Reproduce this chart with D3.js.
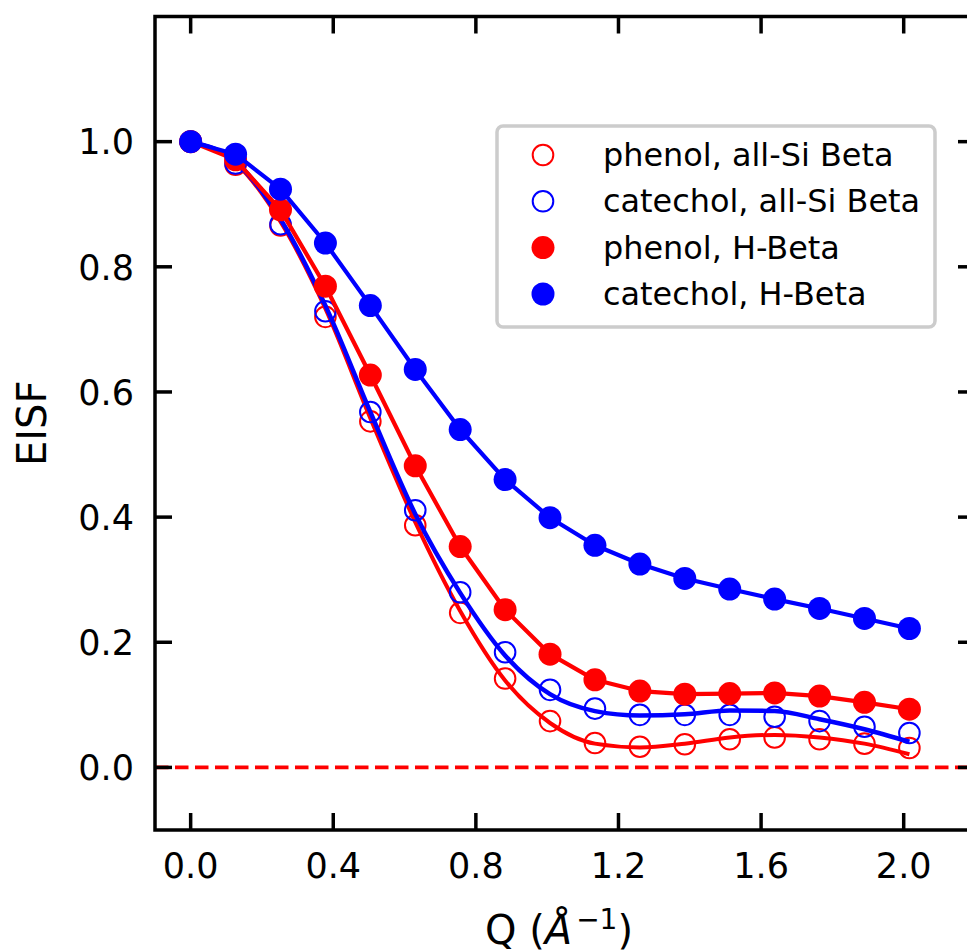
<!DOCTYPE html>
<html>
<head>
<meta charset="utf-8">
<script src="https://cdn.jsdelivr.net/npm/d3@7"></script>
<style>
  html, body { margin: 0; padding: 0; background: #fff; }
  svg { display: block; font-family: "DejaVu Sans", sans-serif; }
</style>
</head>
<body>
<svg id="chart" width="967" height="952"></svg>
<script>
// ---- data ----
const qValues = [0.000, 0.126, 0.252, 0.378, 0.504, 0.630, 0.756, 0.882, 1.008, 1.134, 1.260, 1.386, 1.512, 1.638, 1.764, 1.890, 2.016];
const phenolAllSi   = [1.000, 0.963, 0.866, 0.720, 0.553, 0.387, 0.247, 0.142, 0.074, 0.039, 0.033, 0.037, 0.045, 0.048, 0.045, 0.038, 0.031];
const catecholAllSi = [1.000, 0.965, 0.868, 0.729, 0.568, 0.411, 0.280, 0.184, 0.124, 0.094, 0.084, 0.084, 0.084, 0.081, 0.074, 0.065, 0.055];
const phenolHBeta   = [1.000, 0.971, 0.891, 0.769, 0.627, 0.482, 0.353, 0.252, 0.181, 0.140, 0.122, 0.117, 0.118, 0.119, 0.114, 0.104, 0.093];
const catecholHBeta = [1.000, 0.980, 0.924, 0.838, 0.738, 0.636, 0.540, 0.460, 0.399, 0.355, 0.325, 0.302, 0.285, 0.269, 0.254, 0.238, 0.222];
// smooth fit curves drawn through the open-symbol series
const phenolAllSiFit   = [1.000, 0.966, 0.872, 0.733, 0.558, 0.392, 0.250, 0.139, 0.071, 0.038, 0.032, 0.038, 0.048, 0.052, 0.048, 0.038, 0.021];
const catecholAllSiFit = [1.000, 0.968, 0.876, 0.738, 0.568, 0.405, 0.279, 0.179, 0.117, 0.090, 0.083, 0.085, 0.091, 0.090, 0.077, 0.061, 0.041];

const seriesNames = ["phenol, all-Si Beta", "catechol, all-Si Beta", "phenol, H-Beta", "catechol, H-Beta"];
const xTicks = [0.0, 0.4, 0.8, 1.2, 1.6, 2.0];
const yTicks = [0.0, 0.2, 0.4, 0.6, 0.8, 1.0];
const xDomain = [-0.1, 2.2];
const yDomain = [-0.1, 1.2];

// ---- layout ----
const svg = d3.select("#chart");
const L = 155, R = 975, T = 16.5, B = 830;
const x = d3.scaleLinear().domain(xDomain).range([L, R]);
const y = d3.scaleLinear().domain(yDomain).range([B, T]);

const series = [
  { name: seriesNames[0], vals: phenolAllSi,   fit: phenolAllSiFit,   color: "#ff0000", filled: false, lw: 4 },
  { name: seriesNames[1], vals: catecholAllSi, fit: catecholAllSiFit, color: "#0000ff", filled: false, lw: 4.5 },
  { name: seriesNames[2], vals: phenolHBeta,   fit: null,             color: "#ff0000", filled: true,  lw: 4.2 },
  { name: seriesNames[3], vals: catecholHBeta, fit: null,             color: "#0000ff", filled: true,  lw: 4.2 }
];

// clip for plot area
svg.append("defs").append("clipPath").attr("id", "clip")
  .append("rect").attr("x", L).attr("y", T).attr("width", R - L).attr("height", B - T);

const plot = svg.append("g").attr("clip-path", "url(#clip)");

// zero dashed line
plot.append("line")
  .attr("x1", x(xDomain[0])).attr("x2", x(xDomain[1]))
  .attr("y1", y(0)).attr("y2", y(0))
  .attr("stroke", "#ff0000").attr("stroke-width", 3.7)
  .attr("stroke-dasharray", "13.5,6.5");

const lineLinear = d3.line().x(d => x(d[0])).y(d => y(d[1]));
const lineSmooth = d3.line().x(d => x(d[0])).y(d => y(d[1])).curve(d3.curveMonotoneX);

series.forEach(s => {
  const g = plot.append("g");
  const pts = qValues.map((q, i) => [q, s.vals[i]]);
  if (s.fit) {
    g.append("path").datum(qValues.map((q, i) => [q, s.fit[i]]))
      .attr("d", lineSmooth).attr("fill", "none")
      .attr("stroke", s.color).attr("stroke-width", s.lw)
      .attr("stroke-linejoin", "round");
    g.selectAll("circle").data(pts).enter().append("circle")
      .attr("cx", d => x(d[0])).attr("cy", d => y(d[1]))
      .attr("r", 10.3).attr("fill", "none")
      .attr("stroke", s.color).attr("stroke-width", 2);
  } else {
    g.append("path").datum(pts)
      .attr("d", lineLinear).attr("fill", "none")
      .attr("stroke", s.color).attr("stroke-width", s.lw)
      .attr("stroke-linejoin", "round");
    g.selectAll("circle").data(pts).enter().append("circle")
      .attr("cx", d => x(d[0])).attr("cy", d => y(d[1]))
      .attr("r", 11.5).attr("fill", s.color);
  }
});

// ---- axes (ticks inward on all sides) ----
const tickLen = 17, tickW = 3.5;
const axes = svg.append("g");
xTicks.forEach(t => {
  axes.append("line").attr("x1", x(t)).attr("x2", x(t)).attr("y1", B).attr("y2", B - tickLen)
    .attr("stroke", "#000").attr("stroke-width", tickW);
  axes.append("line").attr("x1", x(t)).attr("x2", x(t)).attr("y1", T).attr("y2", T + tickLen)
    .attr("stroke", "#000").attr("stroke-width", tickW);
  axes.append("text").attr("x", x(t)).attr("y", 877.5)
    .attr("text-anchor", "middle").attr("font-size", 35).attr("fill", "#000")
    .text(d3.format(".1f")(t));
});
yTicks.forEach(t => {
  axes.append("line").attr("x1", L).attr("x2", L + tickLen).attr("y1", y(t)).attr("y2", y(t))
    .attr("stroke", "#000").attr("stroke-width", tickW);
  axes.append("line").attr("x1", R).attr("x2", R - tickLen).attr("y1", y(t)).attr("y2", y(t))
    .attr("stroke", "#000").attr("stroke-width", tickW);
  axes.append("text").attr("x", 134).attr("y", y(t) + 12.8)
    .attr("text-anchor", "end").attr("font-size", 35).attr("fill", "#000")
    .text(d3.format(".1f")(t));
});
// spines
axes.append("rect").attr("x", L).attr("y", T).attr("width", R - L).attr("height", B - T)
  .attr("fill", "none").attr("stroke", "#000").attr("stroke-width", 3.5);

// axis labels
const xl = svg.append("text").attr("x", (L + R) / 2 - 6).attr("y", 944)
  .attr("text-anchor", "middle").attr("font-size", 40).attr("fill", "#000");
xl.append("tspan").text("Q (");
xl.append("tspan").attr("font-style", "italic").text("Å");
xl.append("tspan").attr("font-size", 28).attr("dy", -15).attr("dx", 4).text("−1");
xl.append("tspan").attr("dy", 15).text(")");

svg.append("text").attr("transform", `translate(46,${(T + B) / 2}) rotate(-90)`)
  .attr("text-anchor", "middle").attr("font-size", 40).attr("fill", "#000").text("EISF");

// ---- legend ----
const lg = svg.append("g");
lg.append("rect").attr("x", 497).attr("y", 126).attr("width", 438).attr("height", 201)
  .attr("rx", 6).attr("fill", "#fff").attr("stroke", "#cccccc").attr("stroke-width", 3.5);
const rowY = [155, 201.3, 247.6, 294];
series.forEach((s, i) => {
  if (s.filled) {
    lg.append("circle").attr("cx", 543).attr("cy", rowY[i]).attr("r", 11.5).attr("fill", s.color);
  } else {
    lg.append("circle").attr("cx", 543).attr("cy", rowY[i]).attr("r", 10.3)
      .attr("fill", "none").attr("stroke", s.color).attr("stroke-width", 2);
  }
  lg.append("text").attr("x", 603).attr("y", rowY[i] + 11)
    .attr("font-size", 31.9).attr("fill", "#000").text(s.name);
});
</script>
</body>
</html>
